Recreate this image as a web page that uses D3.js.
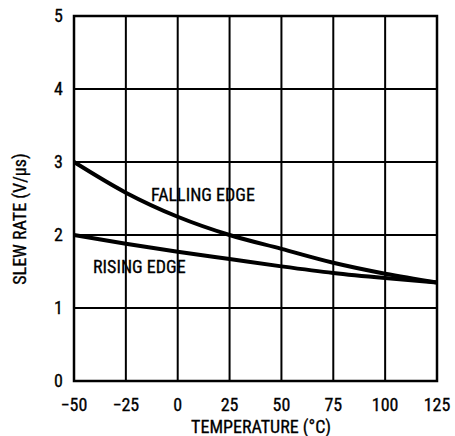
<!DOCTYPE html>
<html><head><meta charset="utf-8">
<script src="https://cdn.jsdelivr.net/npm/d3@7"></script>
<style>body{margin:0;background:#fff}svg{display:block}text{font-family:"Roboto Condensed","Liberation Sans Narrow",sans-serif;fill:#000;stroke:#000;stroke-width:0.3px}</style>
</head><body><svg width="455" height="436"></svg>
<script>
const temps = [-50, -25, 0, 25, 50, 75, 100, 125];
const falling = [3.0, 2.58, 2.25, 2.0, 1.81, 1.62, 1.47, 1.35];
const rising = [2.0, 1.88, 1.77, 1.67, 1.57, 1.48, 1.41, 1.35];
const xTicks = [-50, -25, 0, 25, 50, 75, 100, 125];
const yTicks = [0, 1, 2, 3, 4, 5];

const svg = d3.select("svg");
const x = d3.scaleLinear().domain([-50, 125]).range([74, 437]);
const y = d3.scaleLinear().domain([0, 5]).range([381, 16]);

// grid
svg.append("g").selectAll("line").data(xTicks).join("line")
  .attr("x1", d => x(d)).attr("x2", d => x(d)).attr("y1", y(0)).attr("y2", y(5))
  .attr("stroke", "#000").attr("stroke-width", 2);
svg.append("g").selectAll("line").data(yTicks).join("line")
  .attr("y1", d => y(d)).attr("y2", d => y(d)).attr("x1", x(-50)).attr("x2", x(125))
  .attr("stroke", "#000").attr("stroke-width", 2);
svg.append("rect").attr("x", x(-50)).attr("y", y(5)).attr("width", x(125) - x(-50)).attr("height", y(0) - y(5))
  .attr("fill", "none").attr("stroke", "#000").attr("stroke-width", 2.5);

// tick labels
svg.append("g").selectAll("text").data(yTicks).join("text")
  .attr("x", 63).attr("y", d => y(d)).attr("dy", "0.35em").attr("text-anchor", "end")
  .attr("font-size", 18).text(d => d);
svg.append("g").selectAll("text").data(xTicks).join("text")
  .attr("x", d => x(d)).attr("y", 405).attr("dy", "0.35em").attr("text-anchor", "middle")
  .attr("font-size", 18).text(d => d < 0 ? "\u2212" + Math.abs(d) : d);

svg.append("text").attr("x", 261).attr("y", 427).attr("dy", "0.35em").attr("text-anchor", "middle")
  .attr("font-size", 18).text("TEMPERATURE (°C)");
svg.append("text").attr("transform", "translate(20,219) rotate(-90)").attr("dy", "0.35em").attr("text-anchor", "middle")
  .attr("font-size", 18).text("SLEW RATE (V/μs)");

// curves
const line = d3.line().x(d => x(d[0])).y(d => y(d[1])).curve(d3.curveMonotoneX);
svg.append("path").datum(temps.map((t, i) => [t, falling[i]])).attr("d", line)
  .attr("fill", "none").attr("stroke", "#000").attr("stroke-width", 4);
svg.append("path").datum(temps.map((t, i) => [t, rising[i]])).attr("d", line)
  .attr("fill", "none").attr("stroke", "#000").attr("stroke-width", 4);

svg.append("text").attr("x", 151).attr("y", 195).attr("dy", "0.35em").attr("font-size", 18).text("FALLING EDGE");
svg.append("text").attr("x", 93).attr("y", 267).attr("dy", "0.35em").attr("font-size", 18).text("RISING EDGE");
</script></body></html>
